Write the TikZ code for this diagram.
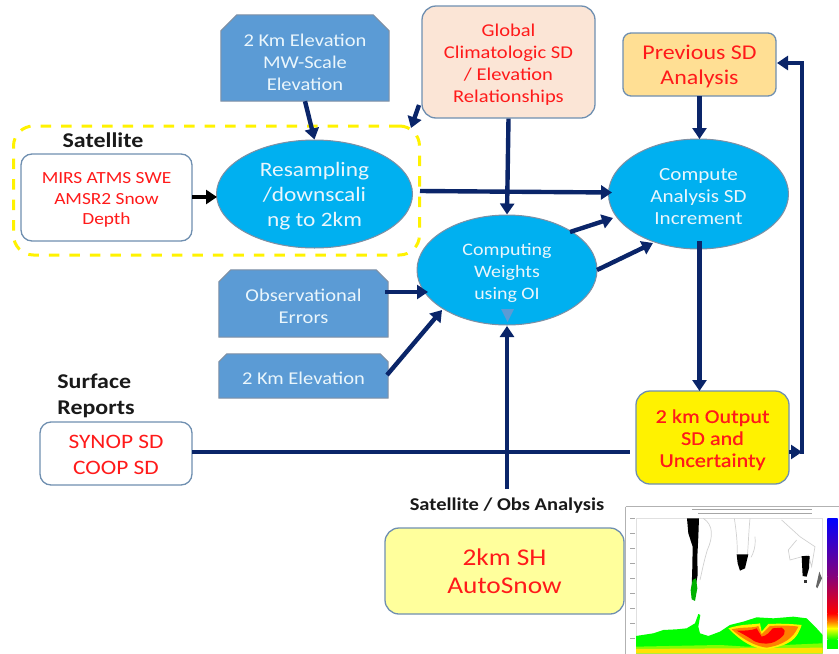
\documentclass[tikz,border=0pt]{standalone}
\usepackage{fontspec}
\setmainfont[FakeStretch=1.14]{Carlito}
\newfontfamily\semibold[FakeStretch=1.14,FakeBold=0.5]{Carlito}
\usetikzlibrary{arrows.meta,shapes.geometric}
\definecolor{navy}{HTML}{0A2569}
\definecolor{steel}{HTML}{5B9BD5}
\definecolor{steeledge}{HTML}{7F8FA3}
\definecolor{cyanfill}{HTML}{00B0F0}
\definecolor{boxedge}{HTML}{6F8FB0}
\definecolor{peach}{HTML}{FBE5D6}
\definecolor{amberfill}{HTML}{FFDF94}
\definecolor{paleyellow}{HTML}{FFFF9C}
\definecolor{txtwhite}{HTML}{EAF6FC}
\definecolor{redtxt}{HTML}{FF1A1A}
\pgfdeclarelayer{under}
\pgfsetlayers{under,main}
\newcommand{\fs}[2]{\fontsize{#1}{#2}\selectfont}
\newcommand{\dn}[1]{\rule{0pt}{#1pt}}
\newcommand{\chamf}[2]{\filldraw[draw=steeledge,line width=1pt,fill=steel]
  (#1.south west) -- ([yshift=-#2pt]#1.north west) -- ([xshift=#2pt]#1.north west) --
  ([xshift=-#2pt]#1.north east) -- ([yshift=-#2pt]#1.north east) -- (#1.south east) -- cycle;}
\tikzset{
 flow/.style={navy,line width=4.4pt,-{Triangle[length=11pt,width=14pt]}},
 plain/.style={navy,line width=4.4pt},
 bluebox/.style={rectangle,text=txtwhite,align=center,inner sep=0pt,font=\fs{18}{22}},
 oval/.style={ellipse,draw=steeledge,line width=1pt,fill=cyanfill,text=txtwhite,align=center,inner sep=0pt},
 roundbox/.style={rectangle,rounded corners=11pt,draw=boxedge,line width=1.3pt,align=center,inner sep=0pt,text=redtxt},
 head/.style={text=black!90,align=left,inner sep=0pt},
}
\begin{document}
\begin{tikzpicture}[x=1pt,y=-1pt]
\useasboundingbox (0,0) rectangle (839,654);
% dashed satellite group
\node (group) [rectangle,rounded corners=20pt,draw=yellow,line width=3pt,dash pattern=on 10.5pt off 10pt,
  minimum width=406pt,minimum height=129pt] at (216.5,190.5) {};
% nodes
\node (elevA) [bluebox,minimum width=168pt,minimum height=86pt] at (305,58) {\dn{21}2 Km Elevation\\MW-Scale\\Elevation};
\node (obserr) [bluebox,minimum width=169pt,minimum height=67pt] at (303.5,303.5) {\dn{18}Observational\\Errors};
\node (elevB) [bluebox,minimum width=169pt,minimum height=44pt] at (303.5,376) {\dn{17}2 Km Elevation};
\begin{pgfonlayer}{under}
\chamf{elevA}{16}
\chamf{obserr}{12}
\chamf{elevB}{8}
\end{pgfonlayer}
\node (global) [roundbox,rounded corners=14pt,fill=peach,minimum width=173pt,minimum height=112pt,font=\fs{18}{22}] at (508.5,62) {\dn{18}Global\\Climatologic SD\\/ Elevation\\Relationships};
\node (prev) [roundbox,fill=amberfill,rounded corners=8pt,minimum width=153pt,minimum height=63pt,font=\fs{21}{25}] at (699.5,64.5) {\dn{18}Previous SD\\Analysis};
\node (resamp) [oval,minimum width=196pt,minimum height=108pt,font=\fs{20.5}{25}] at (314.5,194) {\dn{19}Resampling\\/downscali\\ng to 2km};
\node (sat) [roundbox,fill=white,minimum width=171pt,minimum height=87pt,font=\fs{17}{20.5}] at (106.5,197.5) {\dn{16}MIRS ATMS SWE\\AMSR2 Snow\\Depth};
\node (comp) [oval,minimum width=180pt,minimum height=110pt,font=\fs{18.5}{22}] at (698.5,194) {\dn{17}Compute\\Analysis SD\\Increment};
\node (wts) [oval,minimum width=180pt,minimum height=110pt,font=\fs{17.5}{22}] at (507,270) {\dn{17}Computing\\Weights\\using OI};
\node (synop) [roundbox,fill=white,minimum width=152pt,minimum height=63pt,font=\fs{20.5}{26}] at (116,453.5) {\dn{16}SYNOP SD\\COOP SD};
\node (output) [roundbox,fill=yellow,rounded corners=14pt,minimum width=153pt,minimum height=93pt,font=\semibold\fs{19.5}{22}] at (712.5,437.5) {\dn{18}2 km Output\\SD and\\Uncertainty};
\node (auto) [roundbox,fill=paleyellow,rounded corners=14pt,minimum width=239pt,minimum height=86pt,font=\fs{24}{28}] at (504.5,571) {2km SH\\AutoSnow};
% labels
\node (lsat) [head,font=\bfseries\fs{21}{25}] at (103,140) {Satellite};
\node (lsurf) [head,font=\bfseries\fs{21}{26}] at (96,396) {Surface\\Reports};
\node (lobs) [head,font=\bfseries\fs{18}{22}] at (507,506) {Satellite / Obs Analysis};
% free ends
\coordinate (gA) at (419,105);
\coordinate (gB) at (411,128);
\coordinate (rOut) at (420,191);
\coordinate (cIn) at (612,192.5);
\coordinate (wA) at (570,232);
\coordinate (cA) at (613,218);
\coordinate (wB) at (597,270);
\coordinate (cB) at (653,243);
\coordinate (oe) at (385,292);
\coordinate (wC) at (428,292);
\coordinate (eb) at (387,375);
\coordinate (wD) at (442,310);
\coordinate (oStart) at (507,489);
\coordinate (wE) at (507,326);
\coordinate (sEnd) at (630,452);
\coordinate (sStart) at (192,452);
\coordinate (oRight) at (789,452);
\coordinate (cross) at (802,452);
\coordinate (loopTop) at (802,63);
\coordinate (pIn) at (777,63);
\coordinate (cDown) at (699.5,241);
\coordinate (oTop) at (699.5,391);
\coordinate (pOut) at (699.5,96);
\coordinate (cTop) at (699.5,139);
\coordinate (sOut) at (192,197);
\coordinate (rIn) at (217,197);
% connectors
\draw[flow] (elevA.south) -- (resamp.north);
\draw[flow] (gA) -- (gB);
\draw[flow] (global.south) -- (wts.north);
\draw[flow] (pOut) -- (cTop);
\draw[flow,black] (sOut) -- (rIn);
\draw[flow] (rOut) -- (cIn);
\draw[flow] (wA) -- (cA);
\draw[flow] (wB) -- (cB);
\draw[flow] (oe) -- (wC);
\draw[flow] (eb) -- (wD);
\draw[flow] (cDown) -- (oTop);
\draw[flow] (oStart) -- (wE);
\draw[plain] (sStart) -- (sEnd);
\draw[flow] (oRight) -- (cross);
\draw[flow,line cap=rect] (cross) -- (loopTop) -- (pIn);
\fill[steel] (501,309) -- (514,309) -- (507.5,322) -- cycle;
% map
\begin{scope}[shift={(620,500)},x=0.3333pt,y=-0.3333pt]
 \draw[black!30,line width=1pt] (17,20) -- (656,20);
 \draw[black!30,line width=1pt] (17,20) -- (17,462);
 \draw[black!12,line width=.8pt] (48,55) rectangle (608,460);
 \fill[black!35] (215,28) rectangle (575,31);
 \fill[black!35] (235,39) rectangle (575,43);
 \foreach \yy in {55,100,145,190,235,280,325,370,415}{\draw[black!35,line width=.8pt] (30,\yy) -- (44,\yy);}
 % coast outlines
 \draw[black!18,line width=.7pt] (250,55) .. controls (280,75) and (280,110) .. (262,150) .. controls (250,190) and (245,220) .. (240,240);
 \draw[black!18,line width=.7pt] (343,55) .. controls (350,100) and (352,130) .. (352,160);
 \draw[black!18,line width=.7pt] (390,55) .. controls (385,110) and (385,140) .. (382,165);
 \draw[black!18,line width=.7pt] (405,110) .. controls (408,140) and (400,160) .. (393,172);
 \draw[black!18,line width=.7pt] (485,60) -- (540,110) -- (585,140) -- (575,200) -- (565,165) -- (510,180) -- (505,150) -- (530,120);
 % black patches
 \fill[black] (201,55) -- (237,55) -- (235,110) -- (232,170) -- (233,225) -- (225,270) -- (215,265) -- (217,200) -- (218,140) -- (205,100) -- cycle;
 \fill[black] (350,163) -- (385,163) -- (375,205) -- (360,212) -- (353,190) -- cycle;
 \fill[black] (545,168) -- (569,168) -- (567,205) -- (560,230) -- (548,228) -- cycle;
 \fill[black!80] (553,240) rectangle (560,250);
 \fill[green!70!black] (218,240) -- (228,235) -- (232,265) -- (225,303) -- (215,298) -- (212,270) -- cycle;
 \fill[black!60] (598,215) -- (606,235) -- (592,265) -- (588,260) -- cycle;
 % antarctic field
 \fill[green] (48,408) -- (100,400) -- (130,390) -- (170,388) -- (200,385) -- (225,370) -- (235,342) -- (241,345) -- (235,380) -- (240,400) -- (265,408) -- (300,395) -- (330,375) -- (370,365) -- (410,352) -- (460,355) -- (520,350) -- (560,355) -- (590,385) -- (608,405) -- (608,460) -- (48,460) -- cycle;
 \fill[green!50!yellow] (48,440) -- (300,435) -- (380,440) -- (608,430) -- (608,460) -- (48,460) -- cycle;
 \fill[yellow!85!orange] (48,447) -- (608,443) -- (608,460) -- (48,460) -- cycle;
 \fill[yellow] (325,385) .. controls (370,370) and (400,375) .. (420,370) -- (425,395) -- (445,372) .. controls (480,370) and (520,372) .. (545,375) .. controls (530,420) and (510,435) .. (440,448) .. controls (400,445) and (370,430) .. cycle;
 \fill[orange] (335,388) .. controls (370,380) and (400,385) .. (415,378) -- (425,403) -- (450,378) .. controls (480,376) and (510,376) .. (535,380) .. controls (520,415) and (490,435) .. (440,443) .. controls (410,440) and (370,420) .. cycle;
 \fill[red] (350,392) .. controls (375,392) and (395,392) .. (410,385) -- (425,410) .. controls (440,408) and (450,395) .. (458,385) -- (485,383) .. controls (505,395) and (490,410) .. (470,422) .. controls (450,436) and (410,432) .. (395,418) .. controls (380,408) and (365,400) .. cycle;
 % colour bar
 \shade[top color=blue,bottom color=purple!70!blue] (622,55) rectangle (653,230);
 \shade[top color=purple!70!blue,bottom color=red] (622,230) rectangle (653,340);
 \shade[top color=red,bottom color=orange] (622,340) rectangle (653,365);
 \shade[top color=orange,bottom color=yellow] (622,365) rectangle (653,385);
 \shade[top color=yellow,bottom color=green] (622,385) rectangle (653,420);
 \fill[green] (622,420) rectangle (653,447);
\end{scope}
\end{tikzpicture}
\end{document}
